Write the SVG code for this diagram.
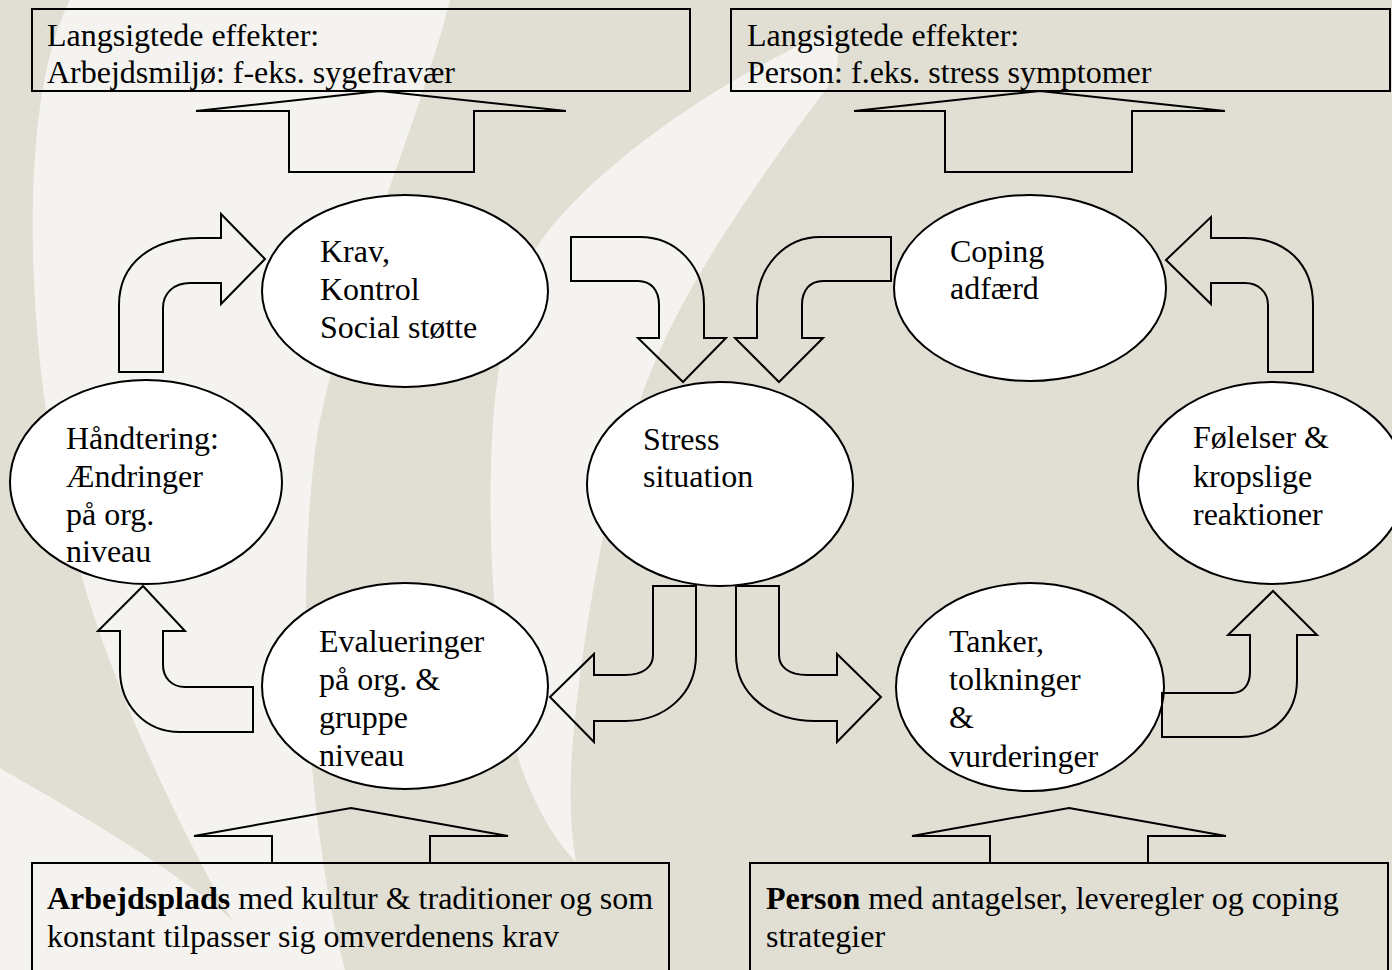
<svg xmlns="http://www.w3.org/2000/svg" width="1392" height="970" viewBox="0 0 1392 970">
<style>
.node ellipse{fill:#ffffff;stroke:#000000;stroke-width:2}
.box rect{fill:none;stroke:#000000;stroke-width:2}
#connectors path{fill:none;stroke:#000000;stroke-width:2;stroke-linejoin:miter}
text{font-family:"Liberation Serif","Times New Roman",serif;font-size:32px;fill:#000000}
.b{font-weight:bold}
.light{fill:#F4F3F0}
</style>
<g id="background">
<rect x="0" y="0" width="1392" height="970" fill="#E1DFD3"/>
<path class="light" d="M70,0 H450 C420,120 345,290 318,430 C298,560 300,800 345,970 H0 V768 C90,820 175,870 232,920 C175,820 110,680 80,570 C50,470 30,330 33,200 C35,120 45,50 70,0 Z"/>
<path class="light" d="M833,35 C842,50 838,72 827,88 C780,150 700,260 660,350 C620,440 600,540 585,640 C572,730 565,800 576,862 C545,830 515,770 505,700 C492,610 488,520 492,440 C496,360 510,300 535,250 C580,180 690,100 790,50 C805,42 822,33 833,35 Z"/>
</g>
<g id="box-top-left" class="box">
<rect x="32" y="9" width="658" height="82"/>
<text x="47" y="46">Langsigtede effekter:</text>
<text x="47" y="83">Arbejdsmiljø: f-eks. sygefravær</text>
</g>
<g id="box-top-right" class="box">
<rect x="731" y="9" width="659" height="82"/>
<text x="747" y="46">Langsigtede effekter:</text>
<text x="747" y="83">Person: f.eks. stress symptomer</text>
</g>
<g id="box-bottom-left" class="box">
<rect x="32" y="863" width="637" height="130"/>
<text x="47" y="909"><tspan class="b">Arbejdsplads</tspan> med kultur &amp; traditioner og som</text>
<text x="47" y="947">konstant tilpasser sig omverdenens krav</text>
</g>
<g id="box-bottom-right" class="box">
<rect x="750" y="863" width="638" height="130"/>
<text x="766" y="909"><tspan class="b">Person</tspan> med antagelser, leveregler og coping</text>
<text x="766" y="947">strategier</text>
</g>
<g id="node-krav" class="node">
<ellipse cx="405" cy="291" rx="143" ry="96"/>
<text x="320" y="262">Krav,</text>
<text x="320" y="300">Kontrol</text>
<text x="320" y="338">Social støtte</text>
</g>
<g id="node-handtering" class="node">
<ellipse cx="146" cy="482" rx="136" ry="102"/>
<text x="66" y="449">Håndtering:</text>
<text x="66" y="487">Ændringer</text>
<text x="66" y="525">på org.</text>
<text x="66" y="562">niveau</text>
</g>
<g id="node-stress" class="node">
<ellipse cx="720" cy="484" rx="133" ry="102"/>
<text x="643" y="450">Stress</text>
<text x="643" y="487">situation</text>
</g>
<g id="node-coping" class="node">
<ellipse cx="1030" cy="288" rx="136" ry="93"/>
<text x="950" y="262">Coping</text>
<text x="950" y="299">adfærd</text>
</g>
<g id="node-folelser" class="node">
<ellipse cx="1272" cy="483" rx="134" ry="101"/>
<text x="1193" y="448">Følelser &amp;</text>
<text x="1193" y="487">kropslige</text>
<text x="1193" y="525">reaktioner</text>
</g>
<g id="node-evalueringer" class="node">
<ellipse cx="405" cy="686" rx="143" ry="103"/>
<text x="319" y="652">Evalueringer</text>
<text x="319" y="690">på org. &amp;</text>
<text x="319" y="728">gruppe</text>
<text x="319" y="766">niveau</text>
</g>
<g id="node-tanker" class="node">
<ellipse cx="1030" cy="687" rx="134" ry="104"/>
<text x="949" y="652">Tanker,</text>
<text x="949" y="690">tolkninger</text>
<text x="949" y="728">&amp;</text>
<text x="949" y="767">vurderinger</text>
</g>
<g id="connectors">
<path d="M119,372 V305 C119,263 152,238 200,238 H221 V214 L265,259 L221,304 V283 H190 C174,283 163,293 163,308 V372 Z"/>
<path d="M571,237 H640 C678,237 704,268 704,305 V338 H726 L683,382 L638,338 H659 V305 C659,290 651,281 638,281 H571 Z"/>
<path d="M891,237 H820 C784,237 757,268 757,305 V338 H735 L779,382 L823,338 H802 V305 C802,290 810,281 823,281 H891 Z"/>
<path d="M1313,372 V305 C1313,263 1285,238 1245,238 H1211 V217 L1166,260 L1211,304 V283 H1245 C1258,283 1268,292 1268,305 V372 Z"/>
<path d="M653,586 H696 V655 C696,694 665,721 625,721 H594 V742 L550,697 L594,654 V675 H625 C643,675 653,667 653,655 Z"/>
<path d="M736,586 H779 V655 C779,667 789,675 807,675 H837 V654 L881,697 L837,742 V721 H815 C770,721 736,694 736,655 Z"/>
<path d="M253,687 H185 C172,687 163,678 163,665 V631 H185 L143,586 L98,631 H120 V670 C120,705 145,732 180,732 H253 Z"/>
<path d="M1162,693 H1232 C1243,693 1250,685 1250,672 V635 H1228 L1273,591 L1317,635 H1297 V680 C1297,712 1275,737 1240,737 H1162 Z"/>
<path d="M380,91 L566,111 H474 V172 H289 V111 H196 Z"/>
<path d="M1040,91 L1225,111 H1132 V172 H945 V111 H854 Z"/>
<path d="M351,808 L508,836 H430 V863 H272 V836 H194 Z"/>
<path d="M1069,808 L1226,836 H1148 V863 H990 V836 H912 Z"/>
</g>
</svg>
